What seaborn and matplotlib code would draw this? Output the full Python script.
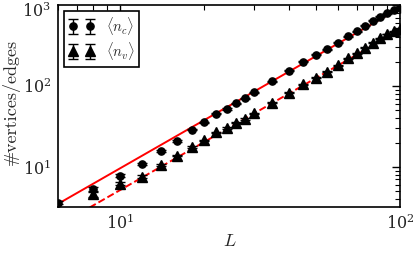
import numpy as np
import matplotlib
matplotlib.use('Agg')
import matplotlib.pyplot as plt
import matplotlib.transforms as mtransforms
import seaborn as sns

# system sizes
L_c = [6, 8, 10, 12, 14, 16, 18, 20, 22, 24, 26, 28, 30, 35, 40, 45, 50, 55, 60,
       65, 70, 75, 80, 85, 90, 95, 100]
n_c = [3.6, 5.3, 7.8, 10.8, 15.8, 21.1, 28.9, 35.6, 45.5, 52.0, 61.1, 70.5, 83.8,
       115, 155, 200, 243, 284, 343, 414, 477, 551, 635, 717, 790, 867, 937]
n_c_err = [0.15, 0.3, 0.3, 0.3, 0.4, 0.5, 0.6, 0.7, 0.8, 0.9, 1.0, 1.2, 1.4,
           1.8, 2.4, 3, 3.5, 4, 5, 6, 7, 8, 9, 10, 11, 12, 13]

L_v = [8, 10, 12, 14, 16, 18, 20, 22, 24, 26, 28, 30, 35, 40, 45, 50, 55, 60,
       65, 70, 75, 80, 85, 90, 95, 100]
n_v = [4.6, 6.2, 7.6, 10.6, 13.8, 17.5, 21.4, 26.8, 30.1, 35.2, 39.1, 46.0, 62.2,
       82.7, 105, 127, 150, 179, 220, 253, 297, 343, 388, 439, 475, 510]
n_v_err = [0.3, 0.3, 0.3, 0.3, 0.3, 0.4, 0.4, 0.5, 0.6, 0.6, 0.7, 0.8, 1.0,
           1.3, 1.6, 2, 2.3, 2.7, 3.2, 3.6, 4, 4.5, 5, 5.5, 6, 6.5]

# power-law fits a*L^b
fit_c = (0.1007, 1.98)
fit_v = (0.0546, 1.977)

sns.set_style('white')
plt.rcParams['mathtext.fontset'] = 'cm'
plt.rcParams['font.family'] = ['serif']
plt.rcParams['font.serif'] = ['DejaVu Serif']

fig = plt.figure(figsize=(4.15, 2.56), dpi=100)
ax = fig.add_axes([58/415, 1-207/256, 342/415, 202/256])

Lfit = np.linspace(5, 100, 200)
sns.lineplot(x=Lfit, y=fit_c[0]*Lfit**fit_c[1], color='red', linewidth=1.4, ax=ax)
sns.lineplot(x=Lfit, y=fit_v[0]*Lfit**fit_v[1], color='red', linewidth=1.4,
             linestyle='--', ax=ax)

h1 = ax.errorbar(L_c, n_c, yerr=n_c_err, fmt='o', color='black', markersize=5.2,
                 capsize=3.5, elinewidth=1, capthick=1, zorder=3)
h2 = ax.errorbar(L_v, n_v, yerr=n_v_err, fmt='^', color='black', markersize=7,
                 capsize=3.5, elinewidth=1, capthick=1, zorder=3)

ax.set_xscale('log')
ax.set_yscale('log')
ax.set_xlim(6, 100)
ax.set_ylim(3.2, 1000)
ax.set_yticks([10, 100, 1000])

ax.set_xlabel(r'$L$', fontsize=13)
ax.set_ylabel('#vertices/edges', fontsize=13, fontfamily='cmr10')
ax.xaxis.set_label_coords(0.503, -0.125)
ax.yaxis.set_label_coords(-0.11, 0.52)

ax.tick_params(which='both', direction='in', top=True, right=True, labelsize=11.5,
               color='black')
ax.tick_params(which='major', length=6, width=1, pad=5)
ax.tick_params(which='minor', length=3.5, width=0.8)
for s in ax.spines.values():
    s.set_linewidth(1.2)
    s.set_color('black')

# nudge the top label down so it is not cut at the figure edge
top_lab = ax.get_yticklabels()[-1]
top_lab.set_transform(top_lab.get_transform() +
                      mtransforms.ScaledTranslation(0, -3/72, fig.dpi_scale_trans))

leg = ax.legend([h1, h2], [r'$\langle n_c\rangle$', r'$\langle n_v\rangle$'],
                loc='upper left', numpoints=2, fancybox=False, fontsize=10.5,
                handlelength=1.8, handleheight=1.0, handletextpad=0.8,
                labelspacing=0.2, borderpad=0.3, borderaxespad=0.4)
leg.get_frame().set_edgecolor('black')
leg.get_frame().set_linewidth(1.2)
leg.get_frame().set_alpha(1)

fig.savefig('out.png', dpi=100)
